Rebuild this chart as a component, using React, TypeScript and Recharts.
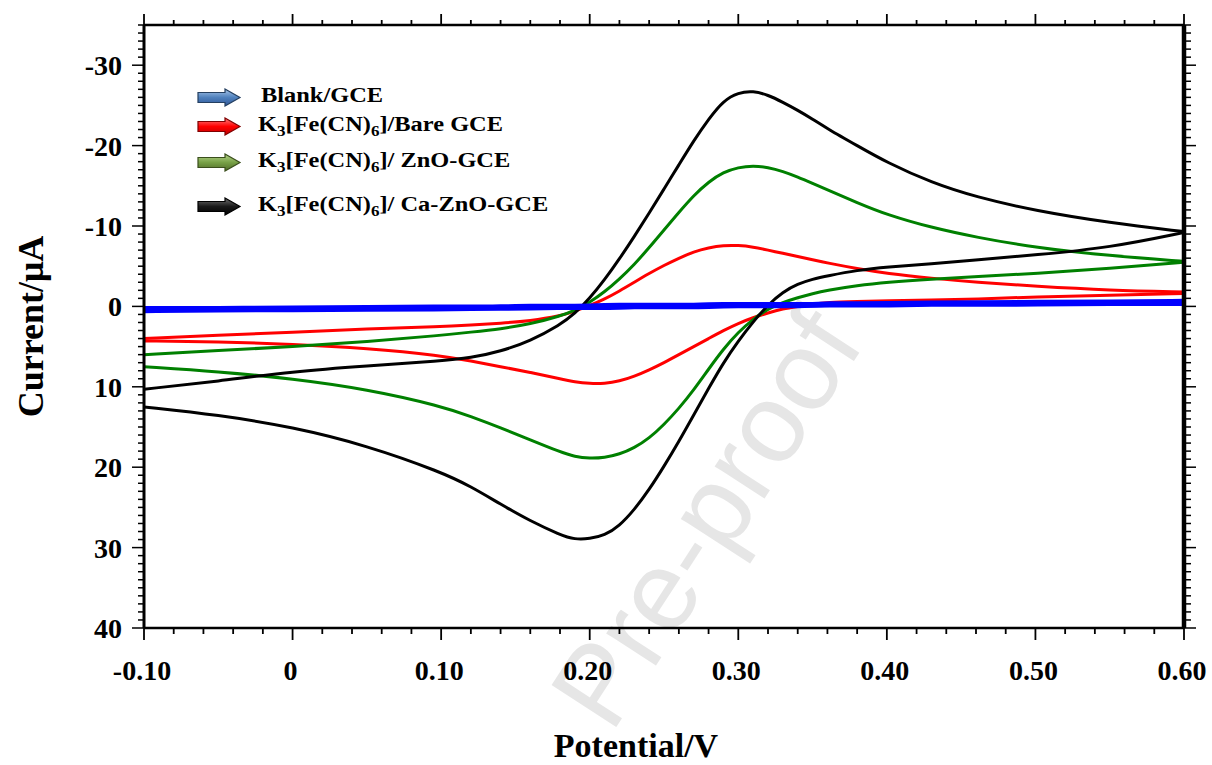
import React from "react";
import { LineChart, Line, XAxis, YAxis, Label } from "recharts";

// potential grid (V), shared by both scan directions
const potentials = [
  -0.1, -0.05, 0.0, 0.05, 0.1, 0.12, 0.14, 0.16, 0.18, 0.19, 0.2, 0.21, 0.22, 0.23, 0.24, 0.25, 0.26,
  0.27, 0.28, 0.29, 0.3, 0.31, 0.32, 0.33, 0.34, 0.35, 0.36, 0.38, 0.4, 0.43, 0.46, 0.5, 0.55, 0.6,
];

// current (µA), anodic (forward) and cathodic (reverse) branches
const blankAnodic = [
  0.3, 0.3, 0.2, 0.2, 0.1, 0.1, 0.1, 0.0, 0.0, 0.0, 0.0, -0.1, -0.1, -0.1, -0.1, -0.1, -0.1,
  -0.1, -0.2, -0.2, -0.2, -0.2, -0.2, -0.2, -0.2, -0.2, -0.3, -0.3, -0.3, -0.4, -0.4, -0.5, -0.5, -0.6,
];
const blankCathodic = [
  0.5, 0.4, 0.4, 0.3, 0.3, 0.2, 0.2, 0.2, 0.1, 0.1, 0.1, 0.1, 0.1, 0.0, 0.0, 0.0, 0.0,
  0.0, 0.0, -0.1, -0.1, -0.1, -0.1, -0.1, -0.1, -0.2, -0.2, -0.2, -0.2, -0.3, -0.3, -0.3, -0.4, -0.4,
];
const bareAnodic = [
  4.0, 3.6, 3.2, 2.8, 2.5, 2.3, 2.1, 1.8, 1.2, 0.6, -0.1, -0.9, -1.9, -3.0, -4.1, -5.1, -6.0,
  -6.8, -7.3, -7.6, -7.6, -7.4, -7.0, -6.6, -6.2, -5.8, -5.4, -4.7, -4.1, -3.5, -3.0, -2.5, -2.0, -1.8,
];
const bareCathodic = [
  4.3, 4.4, 4.7, 5.2, 6.1, 6.8, 7.5, 8.2, 9.0, 9.4, 9.6, 9.6, 9.3, 8.7, 7.9, 7.0, 6.0,
  5.0, 4.0, 3.0, 2.1, 1.4, 0.8, 0.3, 0.0, -0.3, -0.5, -0.6, -0.7, -0.8, -0.9, -1.2, -1.4, -1.6,
];
const znoAnodic = [
  6.0, 5.5, 5.0, 4.4, 3.6, 3.2, 2.8, 2.2, 1.2, 0.5, -0.5, -1.8, -3.4, -5.2, -7.3, -9.5, -11.7,
  -13.8, -15.5, -16.7, -17.3, -17.5, -17.3, -16.8, -16.1, -15.3, -14.5, -12.9, -11.4, -9.8, -8.6, -7.3, -6.3, -5.6,
];
const znoCathodic = [
  7.5, 8.1, 9.0, 10.3, 12.4, 13.7, 15.1, 16.6, 18.1, 18.7, 18.9, 18.8, 18.4, 17.6, 16.4, 14.7, 12.7,
  10.4, 7.8, 5.3, 3.2, 1.6, 0.3, -0.5, -1.1, -1.6, -2.0, -2.6, -3.0, -3.4, -3.7, -4.1, -4.7, -5.5,
];
const caZnoAnodic = [
  10.3, 9.3, 8.1, 7.4, 6.8, 6.4, 5.6, 4.3, 2.3, 0.9, -1.0, -3.3, -5.9, -8.7, -11.6, -14.6, -17.6,
  -20.6, -23.3, -25.6, -26.6, -26.8, -26.3, -25.4, -24.4, -23.3, -22.1, -20.0, -17.9, -15.4, -13.6, -11.9, -10.4, -9.3,
];
const caZnoCathodic = [
  12.5, 13.5, 15.0, 17.3, 20.6, 22.4, 24.6, 26.7, 28.4, 29.0, 28.9, 28.5, 27.3, 25.3, 22.8, 19.9, 16.8,
  13.5, 10.2, 7.0, 4.3, 1.9, -0.2, -1.8, -2.8, -3.4, -3.8, -4.5, -4.9, -5.3, -5.8, -6.4, -7.3, -9.2,
];

const xMajorTicks = [-0.1, 0, 0.1, 0.2, 0.3, 0.4, 0.5, 0.6];
const xTickLabels = ["-0.10", "0", "0.10", "0.20", "0.30", "0.40", "0.50", "0.60"];
const yMajorTicks = [-30, -20, -10, 0, 10, 20, 30, 40];
const yTickLabels = ["-30", "-20", "-10", "0", "10", "20", "30", "40"];

const xMinorTicks = Array.from({ length: 36 }, (_, i) => Math.round((-0.1 + i * 0.02) * 100) / 100);
const yMinorTicks = Array.from({ length: 76 }, (_, i) => -35 + i);

// legend label segments: odd entries are subscripts
const series = [
  { key: "bare", color: "#ff0000", width: 3, label: ["K", "3", "[Fe(CN)", "6", "]/Bare GCE"], arrow: ["#ff8080", "#ff0000", "#c00000", "#7f0000"] },
  { key: "zno", color: "#008000", width: 3, label: ["K", "3", "[Fe(CN)", "6", "]/ ZnO-GCE"], arrow: ["#b5d48a", "#77a046", "#4f6a28", "#3a4e1c"] },
  { key: "ca", color: "#000000", width: 3, label: ["K", "3", "[Fe(CN)", "6", "]/ Ca-ZnO-GCE"], arrow: ["#707070", "#1a1a1a", "#000000", "#000000"] },
  { key: "blank", color: "#0000ff", width: 5.5, label: ["Blank/GCE"], arrow: ["#a9c6ea", "#4f81bd", "#2f5597", "#243f60"] },
];
const legendOrder = ["blank", "bare", "zno", "ca"];
const legendTops = [88, 117, 153, 197];

const rows = potentials.map((E, i) => ({
  E,
  blankA: blankAnodic[i],
  blankC: blankCathodic[i],
  bareA: bareAnodic[i],
  bareC: bareCathodic[i],
  znoA: znoAnodic[i],
  znoC: znoCathodic[i],
  caA: caZnoAnodic[i],
  caC: caZnoCathodic[i],
}));

const serif = '"Liberation Serif", "Times New Roman", serif';
const tickFont = { fontFamily: serif, fontWeight: 700, fontSize: 28, fill: "#000" };

const majorIndex = (list: number[], v: number) => list.findIndex((t) => Math.abs(t - v) < 1e-6);

const BottomTick = (props: any) => {
  const { x, y, payload } = props;
  const idx = majorIndex(xMajorTicks, payload.value);
  return (
    <g>
      <line x1={x} y1={y} x2={x} y2={y + (idx >= 0 ? 12 : 6)} stroke="#000" strokeWidth={1.8} />
      {idx >= 0 && (
        <text x={x - 2} y={y + 52} textAnchor="middle" style={tickFont}>
          {xTickLabels[idx]}
        </text>
      )}
    </g>
  );
};

const TopTick = (props: any) => {
  const { x, y, payload } = props;
  const major = majorIndex(xMajorTicks, payload.value) >= 0;
  return <line x1={x} y1={y} x2={x} y2={y - (major ? 11 : 5)} stroke="#000" strokeWidth={1.8} />;
};

const LeftTick = (props: any) => {
  const { x, y, payload } = props;
  const idx = majorIndex(yMajorTicks, payload.value);
  return (
    <g>
      <line x1={x} y1={y} x2={x - (idx >= 0 ? 12 : 6)} y2={y} stroke="#000" strokeWidth={1.5} />
      {idx >= 0 && (
        <text x={x - 22} y={y + 10} textAnchor="end" style={tickFont}>
          {yTickLabels[idx]}
        </text>
      )}
    </g>
  );
};

const RightTick = (props: any) => {
  const { x, y, payload } = props;
  const major = majorIndex(yMajorTicks, payload.value) >= 0;
  return <line x1={x} y1={y} x2={x + (major ? 12 : 7)} y2={y} stroke="#000" strokeWidth={1.5} />;
};

const XTitle = (props: any) => {
  const vb = props.viewBox;
  return (
    <text x={vb.x + vb.width / 2 - 28} y={vb.y + vb.height - 8} textAnchor="middle"
      style={{ fontFamily: serif, fontWeight: 700, fontSize: 34, fill: "#000" }}>
      Potential/V
    </text>
  );
};

const YTitle = (props: any) => {
  const vb = props.viewBox;
  return (
    <text transform={`translate(${vb.x + 43},${vb.y + vb.height / 2}) rotate(-90)`} textAnchor="middle"
      style={{ fontFamily: serif, fontWeight: 700, fontSize: 36, fill: "#000" }}>
      Current/μA
    </text>
  );
};

const Arrow = ({ id, colors }: { id: string; colors: string[] }) => (
  <svg width={45} height={19} style={{ display: "block" }}>
    <defs>
      <linearGradient id={id} x1="0" y1="0" x2="0" y2="1">
        <stop offset="0" stopColor={colors[0]} />
        <stop offset="0.5" stopColor={colors[1]} />
        <stop offset="1" stopColor={colors[2]} />
      </linearGradient>
    </defs>
    <polygon points="1,4.5 28,4.5 28,1 43,9.5 28,18 28,14.5 1,14.5" fill={`url(#${id})`} stroke={colors[3]} strokeWidth={1.2} />
  </svg>
);

const CvLegend = () => (
  <div style={{ position: "absolute", left: 0, top: 0 }}>
    {legendOrder.map((k, i) => {
      const s = series.find((d) => d.key === k)!;
      return (
        <React.Fragment key={k}>
          <div style={{ position: "absolute", left: 197, top: legendTops[i] }}>
            <Arrow id={`arrow-${k}`} colors={s.arrow} />
          </div>
          <div
            style={{
              position: "absolute",
              left: k === "blank" ? 261 : 258,
              top: legendTops[i] - 3,
              whiteSpace: "nowrap",
              fontFamily: serif,
              fontWeight: 700,
              fontSize: 20,
              lineHeight: "20px",
              transform: "scaleX(1.22)",
              transformOrigin: "0 0",
            }}
          >
            {s.label.map((seg, j) =>
              j % 2 === 1 ? (
                <span key={j} style={{ fontSize: 14, position: "relative", top: 5 }}>{seg}</span>
              ) : (
                <span key={j}>{seg}</span>
              )
            )}
          </div>
        </React.Fragment>
      );
    })}
  </div>
);

export default function App() {
  const lineOrder = ["bare", "zno", "ca", "blank"];
  return (
    <div style={{ position: "absolute", left: 0, top: 0, width: 1212, height: 765, background: "#fff", overflow: "hidden" }}>
      <svg width={1212} height={765} style={{ position: "absolute", left: 0, top: 0 }}>
        <text
          transform="translate(706,518) rotate(-57)"
          textAnchor="middle"
          dominantBaseline="central"
          style={{ fontFamily: '"Liberation Sans", Arial, sans-serif', fontSize: 112, fill: "#e6e6e6" }}
        >
          Pre-proof
        </text>
      </svg>
      <div style={{ position: "absolute", left: 0, top: 0 }}>
        <LineChart width={1212} height={765} data={rows} margin={{ top: 0, right: 0, bottom: 0, left: 0 }}>
          <XAxis
            xAxisId="b"
            type="number"
            dataKey="E"
            domain={[-0.1, 0.6]}
            allowDataOverflow
            ticks={xMinorTicks}
            interval={0}
            tickLine={false}
            tickSize={0}
            tickMargin={0}
            tick={BottomTick}
            axisLine={{ stroke: "#000", strokeWidth: 2.5 }}
            height={137}
          >
            <Label content={XTitle} />
          </XAxis>
          <XAxis
            xAxisId="t"
            orientation="top"
            type="number"
            dataKey="E"
            domain={[-0.1, 0.6]}
            allowDataOverflow
            ticks={xMinorTicks}
            interval={0}
            tickLine={false}
            tickSize={0}
            tickMargin={0}
            tick={TopTick}
            axisLine={{ stroke: "#000", strokeWidth: 2.5 }}
            height={25}
          />
          <YAxis
            yAxisId="l"
            type="number"
            domain={[-35, 40]}
            reversed
            allowDataOverflow
            ticks={yMinorTicks}
            interval={0}
            tickLine={false}
            tickSize={0}
            tickMargin={0}
            tick={LeftTick}
            axisLine={{ stroke: "#000", strokeWidth: 3 }}
            width={144}
          >
            <Label content={YTitle} />
          </YAxis>
          <YAxis
            yAxisId="r"
            orientation="right"
            type="number"
            domain={[-35, 40]}
            reversed
            allowDataOverflow
            ticks={yMinorTicks}
            interval={0}
            tickLine={false}
            tickSize={0}
            tickMargin={0}
            tick={RightTick}
            axisLine={{ stroke: "#000", strokeWidth: 4.5 }}
            width={28}
          />
          {lineOrder.flatMap((k) => {
            const s = series.find((d) => d.key === k)!;
            return ["A", "C"].map((dir) => (
              <Line
                key={k + dir}
                xAxisId="b"
                yAxisId="l"
                type="basis"
                dataKey={k + dir}
                stroke={s.color}
                strokeWidth={s.width}
                dot={false}
                activeDot={false}
                isAnimationActive={false}
              />
            ));
          })}
        </LineChart>
      </div>
      <CvLegend />
    </div>
  );
}
